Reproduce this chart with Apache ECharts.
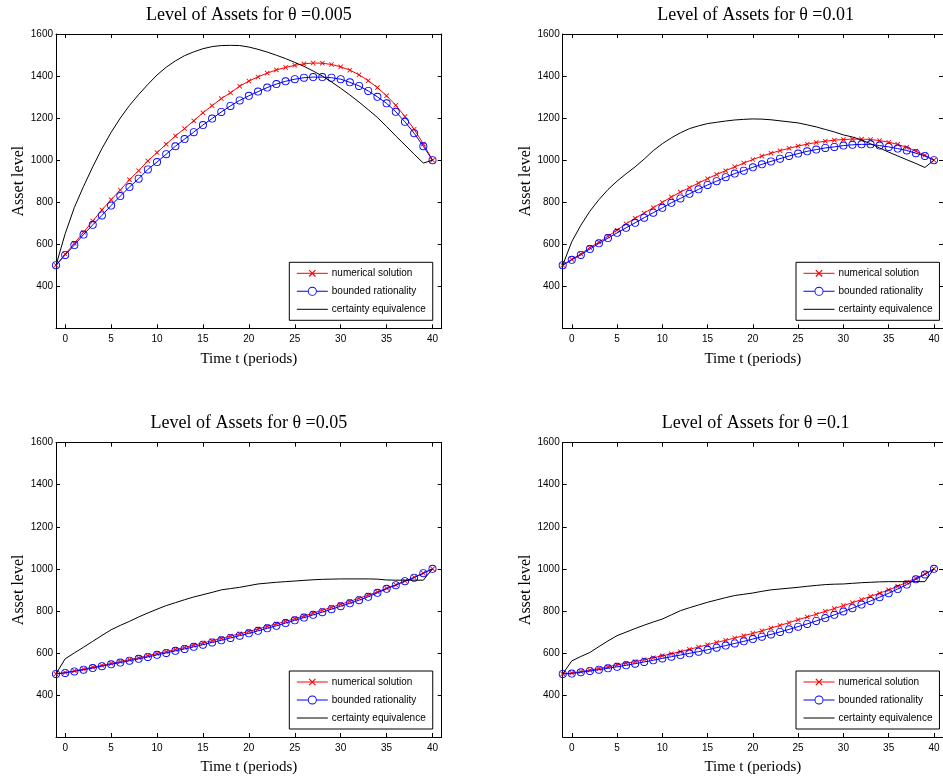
<!DOCTYPE html>
<html><head><meta charset="utf-8">
<script src="https://cdn.jsdelivr.net/npm/echarts@6/dist/echarts.min.js"></script>
<style>html,body{margin:0;padding:0;background:#fff}#c{width:943px;height:782px}</style>
</head><body><div id="c"></div>
<script>
// ---- data ----
const periods = [-1,0,1,2,3,4,5,6,7,8,9,10,11,12,13,14,15,16,17,18,19,20,21,22,23,24,25,26,27,28,29,30,31,32,33,34,35,36,37,38,39,40];
const xTicks = [0,5,10,15,20,25,30,35,40];
const yTicks = [400,600,800,1000,1200,1400,1600];
const thetaLabels = ['0.005','0.01','0.05','0.1'];
const seriesNames = ['numerical solution','bounded rationality','certainty equivalence'];

const numerical_0005 = [500,553,604,657,710,763,812,858,907,950,996,1036,1076,1115,1150,1187,1225,1259,1293,1320,1352,1376,1396,1414,1429,1441,1451,1458,1462,1461,1455,1444,1428,1406,1378,1345,1306,1261,1207,1147,1077,1000];
const bounded_0005   = [500,549,596,646,692,737,784,829,872,912,956,991,1028,1066,1100,1133,1167,1198,1229,1258,1284,1306,1326,1345,1362,1375,1385,1392,1395,1395,1392,1385,1370,1353,1329,1301,1270,1230,1182,1128,1066,1000];
const certainty_0005 = [500,650,775,875,968,1055,1132,1200,1260,1312,1360,1405,1442,1472,1497,1515,1530,1540,1545,1546,1545,1538,1527,1514,1499,1483,1465,1446,1424,1400,1372,1342,1310,1276,1240,1203,1160,1115,1072,1028,986,1000];

const numerical_001 = [500,528,554,584,610,638,667,697,724,748,774,799,825,848,869,891,912,932,950,968,986,1003,1019,1033,1045,1056,1067,1076,1084,1090,1095,1098,1100,1100,1098,1093,1085,1075,1061,1043,1023,1000];
const bounded_001   = [500,526,549,577,604,629,654,678,702,726,750,773,797,818,840,861,882,900,919,936,950,966,980,994,1007,1020,1031,1042,1050,1058,1063,1069,1073,1075,1075,1069,1063,1055,1046,1033,1020,1000];
const certainty_001 = [500,612,690,757,812,860,900,935,968,1005,1045,1078,1106,1130,1150,1163,1174,1180,1186,1191,1194,1196,1195,1192,1187,1182,1177,1168,1158,1146,1134,1120,1110,1096,1078,1058,1038,1020,1002,984,965,1000];

const numerical_005 = [500,507,515,523,532,541,550,559,568,577,587,597,606,616,626,637,647,658,669,680,691,702,714,726,738,750,763,776,789,803,817,831,845,860,875,890,908,924,942,960,980,1000];
const bounded_005   = [500,505,512,520,528,537,546,554,563,572,581,591,600,610,619,629,639,650,660,671,682,693,705,717,729,742,755,768,781,794,808,822,836,851,867,886,905,922,941,958,979,1000];
const certainty_005 = [500,572,600,627,655,683,710,731,750,771,790,808,825,839,853,866,877,888,900,906,912,920,928,932,936,939,942,945,948,950,951,952,952,952,952,951,947,946,946,946,946,1000];

const numerical_01 = [500,505,511,518,526,534,543,551,559,568,577,586,596,606,617,628,639,650,660,671,682,693,705,718,731,744,758,771,784,798,811,825,839,854,869,884,900,917,936,955,976,1000];
const bounded_01   = [500,502,508,514,520,527,534,541,549,557,565,574,582,590,598,606,615,625,635,645,655,666,677,688,700,712,725,738,752,766,781,797,813,830,847,865,884,904,925,950,973,1000];
const certainty_01 = [500,562,583,602,630,657,682,699,716,732,747,761,781,801,815,828,841,852,863,873,879,885,893,900,904,908,912,917,921,925,927,928,931,934,936,938,939,939,939,939,939,1000];

const panelData = [
  [numerical_0005, bounded_0005, certainty_0005],
  [numerical_001, bounded_001, certainty_001],
  [numerical_005, bounded_005, certainty_005],
  [numerical_01, bounded_01, certainty_01]
];

// ---- layout ----
const panels = [
  {left: 56,    top: 34},
  {left: 562.7, top: 34},
  {left: 56,    top: 442.7},
  {left: 562.7, top: 442.7}
];
const PW = 385.7, PH = 294.3;
const crossPath = 'path://M0,1.2L1.2,0L5,3.8L8.8,0L10,1.2L6.2,5L10,8.8L8.8,10L5,6.2L1.2,10L0,8.8L3.8,5Z';
// open ring (unfilled marker, line shows through like MATLAB 'o')
const ringPath = 'path://M0,5A5,5 0 1,1 10,5A5,5 0 1,1 0,5ZM1.1,5A3.9,3.9 0 1,0 8.9,5A3.9,3.9 0 1,0 1.1,5Z';
// legend icon: line segments + ring, 31x9 box
const ringLegendIcon = 'path://M0,4L11,4L11,5L0,5ZM20,4L31,4L31,5L20,5ZM11,4.5A4.5,4.5 0 1,1 20,4.5A4.5,4.5 0 1,1 11,4.5ZM11.9,4.5A3.6,3.6 0 1,0 19.1,4.5A3.6,3.6 0 1,0 11.9,4.5Z';
const serif = '"Liberation Serif","Times New Roman",serif';
const sans = '"Liberation Sans",Arial,sans-serif';

const grid = [], xAxis = [], yAxis = [], series = [], title = [], legend = [];
panels.forEach((p, i) => {
  grid.push({left: p.left, top: p.top, width: PW, height: PH, containLabel: false});
  title.push({
    text: 'Level of Assets for \u03b8 =' + thetaLabels[i],
    left: p.left + PW / 2, top: p.top - 28, textAlign: 'center', padding: 0,
    textStyle: {fontFamily: serif, fontSize: 18, fontWeight: 'normal', color: '#000'}
  });
  const axLine = {show: true, onZero: false, lineStyle: {color: '#000', width: 1}};
  xAxis.push({
    type: 'value', gridIndex: i, position: 'bottom', min: -1, max: 41,
    name: 'Time t (periods)', nameLocation: 'middle', nameGap: 23,
    nameTextStyle: {fontFamily: serif, fontSize: 15, color: '#000'},
    axisLine: axLine,
    axisTick: {show: true, inside: true, length: 4, customValues: xTicks, lineStyle: {color: '#000'}},
    axisLabel: {show: true, customValues: xTicks, margin: 6, fontFamily: sans, fontSize: 10, color: '#000',
      formatter: v => String(v)},
    splitLine: {show: false}
  });
  xAxis.push({
    type: 'value', gridIndex: i, position: 'top', min: -1, max: 41,
    axisLine: axLine,
    axisTick: {show: true, inside: true, length: 4, customValues: xTicks, lineStyle: {color: '#000'}},
    axisLabel: {show: false},
    splitLine: {show: false}
  });
  yAxis.push({
    type: 'value', gridIndex: i, position: 'left', min: 200, max: 1600,
    name: 'Asset level', nameLocation: 'middle', nameGap: 27,
    nameTextStyle: {fontFamily: serif, fontSize: 16, color: '#000'},
    axisLine: axLine,
    axisTick: {show: true, inside: true, length: 4, customValues: yTicks, lineStyle: {color: '#000'}},
    axisLabel: {show: true, customValues: yTicks, margin: 3, fontFamily: sans, fontSize: 10, color: '#000',
      formatter: v => String(v)},
    splitLine: {show: false}
  });
  yAxis.push({
    type: 'value', gridIndex: i, position: 'right', min: 200, max: 1600,
    axisLine: axLine,
    axisTick: {show: true, inside: true, length: 4, customValues: yTicks, lineStyle: {color: '#000'}},
    axisLabel: {show: false},
    splitLine: {show: false}
  });
  const d = panelData[i];
  const pts = arr => periods.map((t, k) => [t, arr[k]]);
  series.push({
    name: seriesNames[0], type: 'line', xAxisIndex: 2 * i, yAxisIndex: 2 * i,
    data: pts(d[0]), symbol: crossPath, symbolSize: 5, showAllSymbol: true,
    lineStyle: {color: '#ff0000', width: 1}, itemStyle: {color: '#ff0000', borderWidth: 0},
    emphasis: {disabled: true}, z: 2
  });
  series.push({
    name: seriesNames[1], type: 'line', xAxisIndex: 2 * i, yAxisIndex: 2 * i,
    data: pts(d[1]), symbol: ringPath, symbolSize: 8, showAllSymbol: true,
    lineStyle: {color: '#0000ff', width: 1}, itemStyle: {color: '#0000ff', borderWidth: 0},
    emphasis: {disabled: true}, z: 3
  });
  series.push({
    name: seriesNames[2], type: 'line', xAxisIndex: 2 * i, yAxisIndex: 2 * i,
    data: pts(d[2]), symbol: 'none', showSymbol: false,
    lineStyle: {color: '#000000', width: 1}, itemStyle: {color: '#000000'},
    emphasis: {disabled: true}, z: 4
  });
  legend.push({
    data: [
      {name: seriesNames[0]},
      {name: seriesNames[1], icon: ringLegendIcon, itemStyle: {borderWidth: 0}},
      {name: seriesNames[2], itemStyle: {opacity: 0}}
    ],
    orient: 'vertical',
    left: p.left + 233.3, top: p.top + 228.3,
    padding: [6, 7, 6, 7], itemGap: 8, itemWidth: 31, itemHeight: 9,
    lineStyle: {width: 1},
    backgroundColor: '#fff', borderColor: '#000', borderWidth: 1, borderRadius: 0,
    selectedMode: false,
    textStyle: {fontFamily: sans, fontSize: 10, color: '#000', padding: [0,0,0,-1]}
  });
});

const chart = echarts.init(document.getElementById('c'), null, {renderer: 'canvas'});
chart.setOption({
  animation: false,
  backgroundColor: '#fff',
  title, grid, xAxis, yAxis, series, legend,
  tooltip: {show: false}
});
</script>
</body></html>
